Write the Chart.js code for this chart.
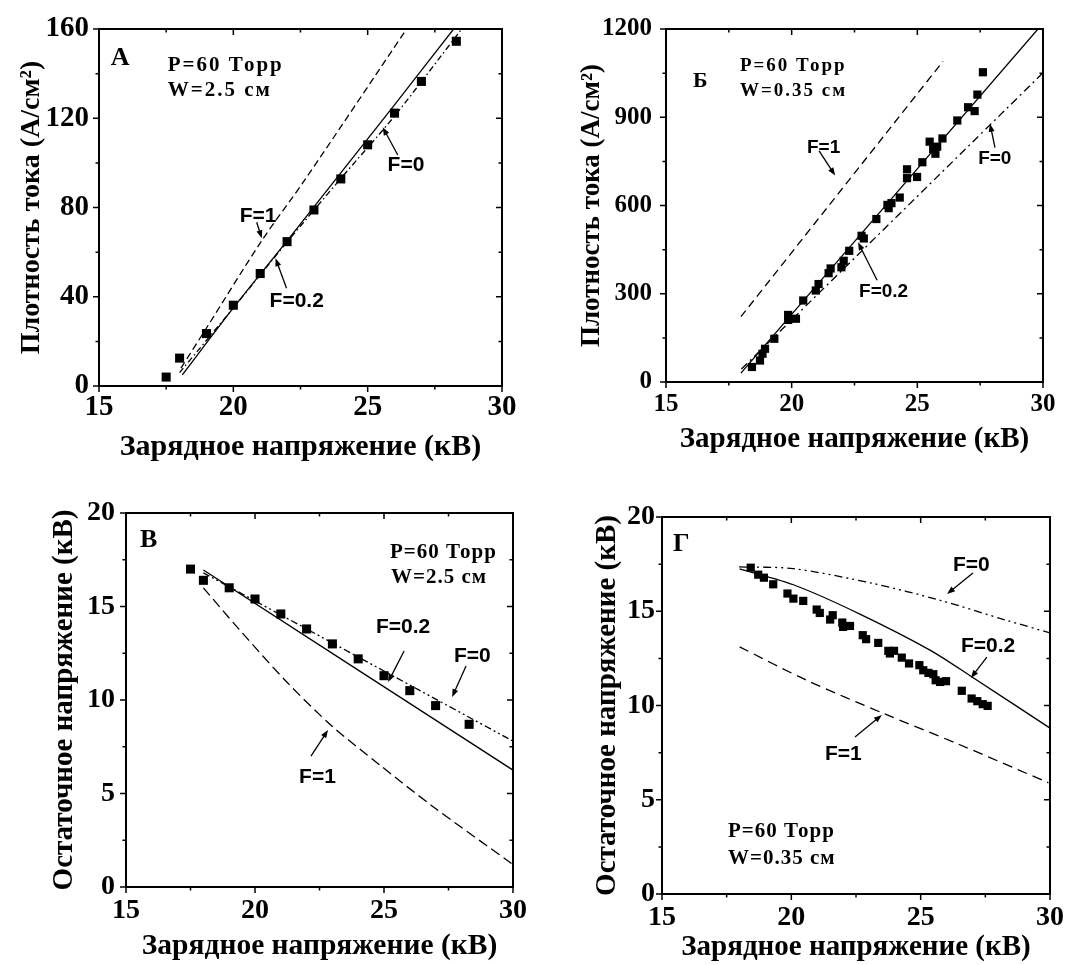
<!DOCTYPE html>
<html>
<head>
<meta charset="utf-8">
<script src="https://cdn.jsdelivr.net/npm/chart.js@4.4.0/dist/chart.umd.min.js"></script>
<style>
  body { margin: 0; background: #fff; }
  #wrap { position: relative; width: 1085px; height: 965px; overflow: hidden; }
  canvas { position: absolute; }
</style>
</head>
<body>
<div id="wrap">
  <canvas id="panelA" width="540" height="480" style="left:0px;top:0px"></canvas>
  <canvas id="panelB" width="545" height="480" style="left:540px;top:0px"></canvas>
  <canvas id="panelC" width="540" height="485" style="left:0px;top:480px"></canvas>
  <canvas id="panelD" width="545" height="485" style="left:540px;top:480px"></canvas>
</div>
<script>
// А: плотность тока, W = 2.5 см
const aVolt = [17.5, 18, 19, 20, 21, 22, 23, 24, 25, 26, 27, 28.3];
const aJ = [4, 12.5, 23.5, 36.2, 50.4, 64.7, 78.9, 92.8, 108.1, 122.3, 136.5, 154.5];
const aF1V = [18.05, 19, 21.05, 22.64, 26.45];
const aF1J = [8, 26, 65, 92, 160];
const aF02V = [18.1, 20, 22, 24, 26, 28.2];
const aF02J = [5, 35, 65, 95.5, 126, 160];
const aF0V = [18, 20, 22, 24, 26, 28.5];
const aF0J = [6, 35, 64.5, 93, 121, 160];

// Б: плотность тока, W = 0.35 см
const bVolt = [18.42, 18.74, 18.84, 18.94, 19.31, 19.86, 19.86, 20.17, 20.46, 20.96, 21.07, 21.47, 21.55,
  21.98, 22.07, 22.29, 22.78, 22.87, 23.37, 23.81, 23.86, 23.97, 24.3, 24.59, 24.59, 24.99, 25.2,
  25.49, 25.63, 25.72, 25.79, 26.0, 26.59, 27.02, 27.28, 27.39, 27.61];
const bJ = [51, 73, 96, 113, 147, 211, 228, 215, 277, 311, 333, 370, 386,
  390, 412, 446, 497, 488, 554, 602, 591, 608, 627, 693, 723, 697, 747,
  817, 791, 776, 800, 828, 889, 934, 921, 977, 1053];
const bF1V = [17.98, 26.02];
const bF1J = [222, 1090];
const bF02V = [17.98, 29.8];
const bF02J = [30, 1200];
const bF0V = [18, 19.27, 30];
const bF0J = [44, 150, 1051];

// В: остаточное напряжение, W = 2.5 см
const cVolt = [17.5, 18, 19, 20, 21, 22, 23, 24, 25, 26, 27, 28.3];
const cResid = [17.0, 16.4, 16.0, 15.4, 14.6, 13.8, 13.0, 12.2, 11.3, 10.5, 9.7, 8.7];
const cF1V = [18, 19.37, 21.24, 22.99, 24.86, 26.85, 30];
const cF1U = [16.0, 13.8, 10.95, 8.6, 6.5, 4.35, 1.2];
const cF02V = [18, 30];
const cF02U = [16.95, 6.25];
const cF0V = [18, 30];
const cF0U = [16.8, 7.8];

// Г: остаточное напряжение, W = 0.35 см
const dVolt = [18.43, 18.72, 18.94, 19.3, 19.85, 20.08, 20.46, 20.98, 21.1, 21.5, 21.6, 21.97, 22.0,
  22.27, 22.76, 22.89, 23.36, 23.75, 23.81, 23.97, 24.27, 24.55, 24.95, 25.1, 25.3, 25.49, 25.58,
  25.75, 25.98, 26.59, 26.97, 27.19, 27.4, 27.59];
const dResid = [17.31, 16.94, 16.78, 16.43, 15.94, 15.67, 15.55, 15.09, 14.91, 14.56, 14.79, 14.4, 14.17,
  14.22, 13.73, 13.52, 13.32, 12.9, 12.76, 12.9, 12.54, 12.23, 12.14, 11.87, 11.73, 11.66, 11.34,
  11.25, 11.29, 10.78, 10.37, 10.23, 10.07, 9.98];
const dF1V = [18, 20.59, 23.56, 26.39, 29.94];
const dF1U = [13.11, 11.34, 9.58, 7.99, 5.9];
const dF02V = [18, 20.2, 22.65, 25.36, 27, 30];
const dF02U = [17.25, 16.34, 14.85, 12.94, 11.5, 8.8];
const dF0V = [17.98, 20.08, 23.17, 25.75, 28.32, 30];
const dF0U = [17.35, 17.26, 16.47, 15.58, 14.52, 13.85];

const xTicks = [15, 20, 25, 30];
const SERIF = 'Liberation Serif';
const SANS = 'Liberation Sans';

const pts = (xs, ys) => xs.map((x, i) => ({ x: x, y: ys[i] }));

// рамка, внутренние/внешние засечки, подписи и стрелки
const decor = {
  id: 'decor',
  afterDraw(chart, args, o) {
    const ctx = chart.ctx;
    const xs = chart.scales.x, ys = chart.scales.y;
    const { left, right, top, bottom } = chart.chartArea;
    ctx.save();
    ctx.strokeStyle = '#000';
    ctx.fillStyle = '#000';
    ctx.lineWidth = 2;
    ctx.strokeRect(left, top, right - left, bottom - top);

    ctx.lineWidth = 1.5;
    ctx.beginPath();
    const xStep = xTicks[1] - xTicks[0];
    for (let v = xs.min; v <= xs.max + 1e-6; v += xStep / 2) {
      const p = xs.getPixelForValue(v);
      const len = Math.abs(v / xStep - Math.round(v / xStep)) < 1e-6 ? 6 : 3.5;
      ctx.moveTo(p, bottom); ctx.lineTo(p, bottom + len);
      ctx.moveTo(p, top); ctx.lineTo(p, top + len);
    }
    for (let v = ys.min; v <= ys.max + 1e-6; v += o.yStep / 2) {
      const p = ys.getPixelForValue(v);
      const len = Math.abs(v / o.yStep - Math.round(v / o.yStep)) < 1e-6 ? 6 : 3.5;
      ctx.moveTo(left, p); ctx.lineTo(left - len, p);
      ctx.moveTo(right, p); ctx.lineTo(right - len, p);
    }
    ctx.stroke();

    ctx.textAlign = 'left';
    ctx.textBaseline = 'alphabetic';
    o.texts.forEach(t => {
      ctx.font = t.font;
      ctx.letterSpacing = t.spacing || '0px';
      ctx.fillText(t.text, xs.getPixelForValue(t.x), ys.getPixelForValue(t.y));
    });
    ctx.letterSpacing = '0px';

    ctx.lineWidth = 1.3;
    o.arrows.forEach(a => {
      const x1 = xs.getPixelForValue(a[0]), y1 = ys.getPixelForValue(a[1]);
      const x2 = xs.getPixelForValue(a[2]), y2 = ys.getPixelForValue(a[3]);
      const ang = Math.atan2(y2 - y1, x2 - x1);
      const hl = 8, hw = 3;
      ctx.beginPath();
      ctx.moveTo(x1, y1);
      ctx.lineTo(x2 - Math.cos(ang) * hl * 0.8, y2 - Math.sin(ang) * hl * 0.8);
      ctx.stroke();
      ctx.beginPath();
      ctx.moveTo(x2, y2);
      ctx.lineTo(x2 - Math.cos(ang) * hl - Math.sin(ang) * hw, y2 - Math.sin(ang) * hl + Math.cos(ang) * hw);
      ctx.lineTo(x2 - Math.cos(ang) * hl + Math.sin(ang) * hw, y2 - Math.sin(ang) * hl - Math.cos(ang) * hw);
      ctx.closePath();
      ctx.fill();
    });
    ctx.restore();
  }
};

function lineSet(xs, ys, dash) {
  return {
    data: pts(xs, ys),
    showLine: true,
    pointRadius: 0,
    borderColor: '#000',
    borderWidth: 1.3,
    borderDash: dash,
    fill: false,
    tension: 0.3
  };
}

function pointSet(xs, ys, r) {
  return {
    data: pts(xs, ys),
    showLine: false,
    pointStyle: 'rect',
    pointRadius: r,
    pointBackgroundColor: '#000',
    pointBorderColor: '#000',
    pointBorderWidth: 0
  };
}

function makePanel(id, p) {
  new Chart(document.getElementById(id), {
    type: 'scatter',
    data: { datasets: p.datasets },
    options: {
      responsive: false,
      animation: false,
      events: [],
      layout: { padding: p.pad },
      plugins: {
        legend: { display: false },
        tooltip: { enabled: false },
        decor: { yStep: p.yStep, texts: p.texts, arrows: p.arrows }
      },
      scales: {
        x: {
          type: 'linear',
          min: 15, max: 30,
          afterBuildTicks: (s) => { s.ticks = xTicks.map(v => ({ value: v })); },
          afterFit: (s) => { s.height = p.xHeight; },
          grid: { display: false, drawTicks: false },
          border: { display: false },
          ticks: { color: '#000', padding: p.xTickPad, maxRotation: 0,
            callback: (v) => String(v),
            font: { family: SERIF, weight: 'bold', size: p.tickSize } },
          title: { display: true, text: 'Зарядное напряжение (кВ)', color: '#000',
            padding: { top: 0, bottom: p.xTitlePad },
            font: { family: SERIF, weight: 'bold', size: p.xTitleSize } }
        },
        y: {
          type: 'linear',
          min: 0, max: p.yMax,
          afterBuildTicks: (s) => { s.ticks = p.yTicks.map(v => ({ value: v })); },
          afterFit: (s) => { s.width = p.yWidth; },
          grid: { display: false, drawTicks: false },
          border: { display: false },
          ticks: { color: '#000', padding: p.yTickPad,
            callback: (v) => String(v),
            font: { family: SERIF, weight: 'bold', size: p.tickSize } },
          title: { display: true, text: p.yTitle, color: '#000', align: p.yAlign || 'center',
            padding: { top: p.yTitlePad, bottom: 0 },
            font: { family: SERIF, weight: 'bold', size: p.yTitleSize } }
        }
      }
    },
    plugins: [decor]
  });
}

document.addEventListener('DOMContentLoaded', () => {
  makePanel('panelA', {
    pad: { left: 0, right: 38, top: 29, bottom: 0 },
    xHeight: 94, yWidth: 99, yMax: 160, yStep: 40, yTicks: [0, 40, 80, 120, 160],
    tickSize: 29, xTickPad: 4, yTickPad: 10,
    xTitleSize: 30, xTitlePad: 15, yTitleSize: 28, yTitlePad: 15,
    yTitle: 'Плотность тока (А/см²)',
    datasets: [
      lineSet(aF1V, aF1J, [7, 4]),
      lineSet(aF02V, aF02J, []),
      lineSet(aF0V, aF0J, [6, 3, 1.5, 3]),
      pointSet(aVolt, aJ, 6.4)
    ],
    texts: [
      { text: 'А', x: 15.44, y: 143.7, font: `bold 26px ${SERIF}` },
      { text: 'P=60 Торр', x: 17.56, y: 141.1, font: `bold 21px ${SERIF}`, spacing: '2px' },
      { text: 'W=2.5 см', x: 17.56, y: 129.9, font: `bold 21px ${SERIF}`, spacing: '2px' },
      { text: 'F=1', x: 20.24, y: 73.4, font: `bold 21px ${SANS}` },
      { text: 'F=0.2', x: 21.35, y: 35.3, font: `bold 21px ${SANS}` },
      { text: 'F=0', x: 25.74, y: 96.3, font: `bold 21px ${SANS}` }
    ],
    arrows: [
      [20.87, 73.4, 21.06, 66.2],
      [21.98, 43.8, 21.57, 57.3],
      [26.12, 103.5, 25.56, 116]
    ]
  });

  makePanel('panelB', {
    pad: { left: 0, right: 42, top: 28, bottom: 0 },
    xHeight: 98, yWidth: 126, yMax: 1200, yStep: 300, yTicks: [0, 300, 600, 900, 1200],
    tickSize: 25, xTickPad: 8, yTickPad: 14,
    xTitleSize: 29, xTitlePad: 23, yTitleSize: 27, yTitlePad: 36,
    yTitle: 'Плотность тока (А/см²)',
    datasets: [
      lineSet(bF1V, bF1J, [8, 5]),
      lineSet(bF02V, bF02J, []),
      lineSet(bF0V, bF0J, [8, 4, 2, 4]),
      pointSet(bVolt, bJ, 5.8)
    ],
    texts: [
      { text: 'Б', x: 16.07, y: 1003, font: `bold 22px ${SERIF}` },
      { text: 'P=60 Торр', x: 17.94, y: 1058, font: `bold 19px ${SERIF}`, spacing: '2px' },
      { text: 'W=0.35 см', x: 17.94, y: 973, font: `bold 19px ${SERIF}`, spacing: '2px' },
      { text: 'F=1', x: 20.61, y: 780, font: `bold 19px ${SANS}` },
      { text: 'F=0.2', x: 22.68, y: 288, font: `bold 19px ${SANS}` },
      { text: 'F=0', x: 27.42, y: 742, font: `bold 19px ${SANS}` }
    ],
    arrows: [
      [21.09, 786, 21.73, 702],
      [23.4, 346, 22.64, 475],
      [28.09, 797, 27.89, 878]
    ]
  });

  makePanel('panelC', {
    pad: { left: 0, right: 27, top: 33, bottom: 0 },
    xHeight: 78, yWidth: 126, yMax: 20, yStep: 5, yTicks: [0, 5, 10, 15, 20],
    tickSize: 28, xTickPad: 7, yTickPad: 11,
    xTitleSize: 29.5, xTitlePad: 1, yTitleSize: 29, yTitlePad: 47,
    yTitle: 'Остаточное напряжение (кВ)',
    datasets: [
      lineSet(cF1V, cF1U, [10, 5]),
      lineSet(cF02V, cF02U, []),
      lineSet(cF0V, cF0U, [7, 3, 2, 3, 2, 3]),
      pointSet(cVolt, cResid, 6.4)
    ],
    texts: [
      { text: 'В', x: 15.54, y: 18.18, font: `bold 26px ${SERIF}` },
      { text: 'P=60 Торр', x: 25.23, y: 17.59, font: `bold 21px ${SERIF}`, spacing: '1px' },
      { text: 'W=2.5 см', x: 25.27, y: 16.26, font: `bold 21px ${SERIF}`, spacing: '1px' },
      { text: 'F=0.2', x: 24.69, y: 13.58, font: `bold 21px ${SANS}` },
      { text: 'F=0', x: 27.71, y: 12.03, font: `bold 21px ${SANS}` },
      { text: 'F=1', x: 21.71, y: 5.56, font: `bold 21px ${SANS}` }
    ],
    arrows: [
      [25.78, 12.62, 25.16, 10.96],
      [28.18, 11.82, 27.64, 10.16],
      [22.17, 7.0, 22.83, 8.4]
    ]
  });

  makePanel('panelD', {
    pad: { left: 0, right: 35, top: 37, bottom: 0 },
    xHeight: 71, yWidth: 122, yMax: 20, yStep: 5, yTicks: [0, 5, 10, 15, 20],
    tickSize: 28, xTickPad: 7, yTickPad: 7,
    xTitleSize: 29, xTitlePad: 0, yTitleSize: 29, yTitlePad: 50,
    yTitle: 'Остаточное напряжение (кВ)',
    datasets: [
      lineSet(dF1V, dF1U, [10, 6]),
      lineSet(dF02V, dF02U, []),
      lineSet(dF0V, dF0U, [8, 4, 2, 4, 2, 4]),
      pointSet(dVolt, dResid, 5.8)
    ],
    texts: [
      { text: 'Г', x: 15.43, y: 18.2, font: `bold 26px ${SERIF}` },
      { text: 'P=60 Торр', x: 17.55, y: 3.02, font: `bold 21px ${SERIF}`, spacing: '1px' },
      { text: 'W=0.35 см', x: 17.55, y: 1.59, font: `bold 21px ${SERIF}`, spacing: '1px' },
      { text: 'F=0', x: 26.25, y: 17.14, font: `bold 21px ${SANS}` },
      { text: 'F=0.2', x: 26.56, y: 12.84, font: `bold 21px ${SANS}` },
      { text: 'F=1', x: 21.3, y: 7.11, font: `bold 21px ${SANS}` }
    ],
    arrows: [
      [27.02, 17.03, 26.02, 15.92],
      [27.56, 12.57, 26.94, 11.46],
      [22.46, 8.33, 23.5, 9.5]
    ]
  });
});
</script>
</body>
</html>
